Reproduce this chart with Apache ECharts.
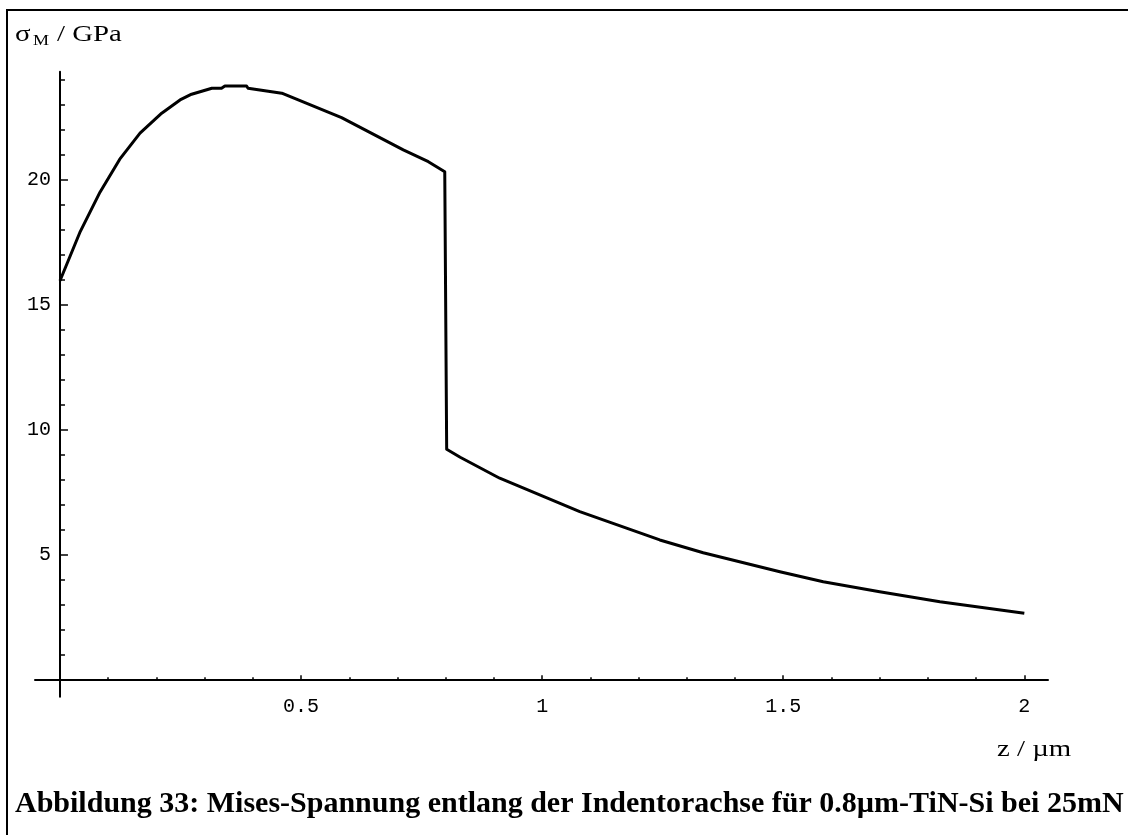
<!DOCTYPE html>
<html><head><meta charset="utf-8">
<script src="https://cdn.jsdelivr.net/npm/echarts@6/dist/echarts.min.js"></script>
<style>html,body{margin:0;padding:0;background:#fff}#c{width:1128px;height:835px}</style>
</head><body><div id="c"></div>
<script>
// z (µm) along the indenter axis and von Mises stress (GPa)
const zValues     = [0, 0.041, 0.083, 0.124, 0.166, 0.211, 0.249, 0.273, 0.315, 0.335, 0.342, 0.387, 0.39, 0.46, 0.584, 0.712, 0.764, 0.781, 0.798, 0.802, 0.83, 0.912, 1.078, 1.244, 1.334, 1.493, 1.583, 1.7, 1.825, 2.0];
const sigmaValues = [15.98, 17.9, 19.52, 20.84, 21.88, 22.68, 23.21, 23.44, 23.68, 23.68, 23.77, 23.77, 23.68, 23.48, 22.5, 21.21, 20.74, 20.54, 20.34, 9.24, 8.92, 8.08, 6.74, 5.61, 5.1, 4.34, 3.94, 3.54, 3.14, 2.68];

const xMajorTicks = [0.5, 1, 1.5, 2];
const xMinorTicks = [0.1, 0.2, 0.3, 0.4, 0.6, 0.7, 0.8, 0.9, 1.1, 1.2, 1.3, 1.4, 1.6, 1.7, 1.8, 1.9];
const yMajorTicks = [5, 10, 15, 20];
const yMinorTicks = [1, 2, 3, 4, 6, 7, 8, 9, 11, 12, 13, 14, 16, 17, 18, 19, 21, 22, 23, 24];

const yAxisTitle = ['σ', 'M', '/ GPa'];
const xAxisTitle = 'z / µm';
const caption = 'Abbildung 33: Mises-Spannung entlang der Indentorachse für 0.8µm-TiN-Si bei 25mN';

const X_MIN = -0.0518, X_MAX = 2.0491, Y_MIN = -0.66, Y_MAX = 24.34;
const monoFont = 'Liberation Mono';
const serif = '"Liberation Serif", "Times New Roman", serif';

function xAxisDef(ticks, len, withLabels, withLine, onZeroIdx) {
  return {
    type: 'value', min: X_MIN, max: X_MAX, position: 'bottom',
    axisLine: { show: withLine, onZero: true, onZeroAxisIndex: onZeroIdx, lineStyle: { color: '#000', width: 2 } },
    axisTick: { show: true, inside: true, length: len, customValues: ticks, lineStyle: { color: '#000', width: 1.5 } },
    axisLabel: withLabels ? { show: true, customValues: ticks, formatter: v => String(v), color: '#000',
      fontFamily: monoFont, fontSize: 20, margin: 0 } : { show: false },
    splitLine: { show: false }
  };
}
function yAxisDef(ticks, len, withLabels, withLine, onZeroIdx) {
  return {
    type: 'value', min: Y_MIN, max: Y_MAX, position: 'left',
    axisLine: { show: withLine, onZero: true, onZeroAxisIndex: onZeroIdx, lineStyle: { color: '#000', width: 2 } },
    axisTick: { show: true, inside: true, length: len, customValues: ticks, lineStyle: { color: '#000', width: 1.5 } },
    axisLabel: withLabels ? { show: true, customValues: ticks, formatter: v => String(v), color: '#000',
      fontFamily: monoFont, fontSize: 20, margin: -16 } : { show: false },
    splitLine: { show: false }
  };
}

const chart = echarts.init(document.getElementById('c'), null, { renderer: 'canvas' });
chart.setOption({
  animation: false,
  backgroundColor: '#fff',
  grid: { left: 35, right: 80, top: 71.7, bottom: 138.3, containLabel: false },
  xAxis: [xAxisDef(xMajorTicks, 5, true, true, 0), xAxisDef(xMinorTicks, 3, false, false, 1)],
  yAxis: [yAxisDef(yMajorTicks, 8, true, true, 0), yAxisDef(yMinorTicks, 5, false, false, 1)],
  series: [{
    type: 'line', xAxisIndex: 0, yAxisIndex: 0,
    data: zValues.map((z, i) => [z, sigmaValues[i]]),
    showSymbol: false, symbol: 'none',
    lineStyle: { color: '#000', width: 3, join: 'round' }
  }],
  graphic: [
    { type: 'line', shape: { x1: 6, y1: 10, x2: 1128, y2: 10 }, style: { stroke: '#000', lineWidth: 2 } },
    { type: 'line', shape: { x1: 7, y1: 9, x2: 7, y2: 835 }, style: { stroke: '#000', lineWidth: 2 } },
    { type: 'text', x: 15, y: 35, scaleX: 1.2, style: { text: yAxisTitle[0], font: '24px ' + serif, fill: '#000', verticalAlign: 'middle' } },
    { type: 'text', x: 33, y: 41, scaleX: 1.2, style: { text: yAxisTitle[1], font: '15px ' + serif, fill: '#000', verticalAlign: 'middle' } },
    { type: 'text', x: 57, y: 35, scaleX: 1.2, style: { text: yAxisTitle[2], font: '24px ' + serif, fill: '#000', verticalAlign: 'middle' } },
    { type: 'text', x: 997, y: 750, scaleX: 1.2, style: { text: xAxisTitle, font: '24px ' + serif, fill: '#000', verticalAlign: 'middle' } },
    { type: 'text', x: 15, y: 804, style: { text: caption, font: 'bold 30px ' + serif, fill: '#000', verticalAlign: 'middle' } }
  ]
});
</script></body></html>
